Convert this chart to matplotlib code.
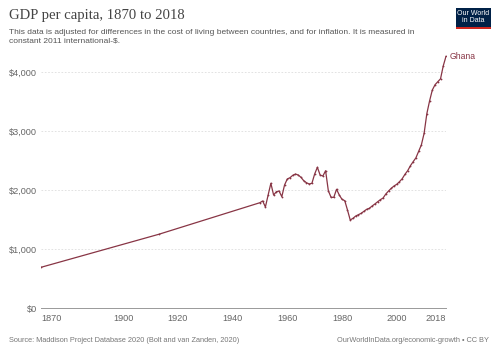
import matplotlib
matplotlib.use("Agg")
from matplotlib import pyplot as plt
from matplotlib.patches import Rectangle
from matplotlib.ticker import FuncFormatter

# Ghana, GDP per capita (2011 int-$)
years = [1870, 1913] + list(range(1950, 2019))
gdp = [
    695, 1254,
    1790, 1820, 1717, 1920, 2119, 1920, 1976, 1988, 1892, 2090,  # 1950-59
    2192, 2214, 2254, 2276, 2259, 2220, 2163, 2129, 2107, 2119,  # 1960-69
    2276, 2390, 2259, 2242, 2332, 1993, 1881, 1881, 2017, 1920,  # 1970-79
    1847, 1824, 1666, 1497, 1525, 1564, 1587, 1610, 1644, 1678,  # 1980-89
    1695, 1734, 1768, 1805, 1841, 1869, 1937, 1988, 2034, 2073,  # 1990-99
    2102, 2146, 2197, 2271, 2333, 2417, 2485, 2550, 2660, 2770,  # 2000-09
    2966, 3300, 3515, 3700, 3790, 3840, 3890, 4110, 4270,        # 2010-18
]
country = "Ghana"
x_ticks = [1870, 1900, 1920, 1940, 1960, 1980, 2000, 2018]
y_ticks = [0, 1000, 2000, 3000, 4000]

line_color = "#883545"
grey = "#666666"

fig = plt.figure(figsize=(5, 3.53), dpi=100)
ax = fig.add_axes([0.082, 0.1266, 0.81, 0.7187])

ax.plot(years, gdp, color=line_color, lw=0.9, marker="o", ms=1.3,
        markeredgewidth=0, zorder=3)
ax.text(years[-1] + 1.2, gdp[-1], country, color=line_color, fontsize=6.2,
        va="center", ha="left", family="Liberation Sans")

ax.set_xlim(1870, 2018)
ax.set_ylim(0, 4300)
ax.set_xticks(x_ticks)
ax.set_yticks(y_ticks)
ax.yaxis.set_major_formatter(FuncFormatter(lambda v, p: f"${v:,.0f}"))
ax.grid(axis="y", color="#dddddd", lw=0.6, ls=(0, (2, 2)))
ax.set_axisbelow(True)

for side in ["top", "right", "left"]:
    ax.spines[side].set_visible(False)
ax.spines["bottom"].set_color("#999999")
ax.spines["bottom"].set_linewidth(0.7)

ax.tick_params(axis="y", length=0, pad=3, labelsize=6.6, labelcolor=grey)
ax.tick_params(axis="x", length=0, pad=4, labelsize=6.6, labelcolor=grey)
for lab in ax.get_xticklabels() + ax.get_yticklabels():
    lab.set_family("Liberation Sans")
xl = ax.get_xticklabels()
xl[0].set_ha("left")
xl[-1].set_ha("right")
# little end ticks at both ends of the x axis
ax.set_xticks([1870, 2018], minor=True)
ax.tick_params(axis="x", which="minor", length=3, width=0.7, color="#999999")

fig.text(0.018, 0.955, "GDP per capita, 1870 to 2018", fontsize=10.6,
         family="Liberation Serif", color="#444444", va="center")
fig.text(0.018, 0.895,
         "This data is adjusted for differences in the cost of living between countries, and for inflation. It is measured in\nconstant 2011 international-$.",
         fontsize=6.0, family="Liberation Sans", color="#555555", va="center",
         linespacing=1.3)
fig.text(0.018, 0.034,
         "Source: Maddison Project Database 2020 (Bolt and van Zanden, 2020)",
         fontsize=5.3, family="Liberation Sans", color="#777777", va="center")
fig.text(0.978, 0.034, "OurWorldInData.org/economic-growth \u2022 CC BY",
         fontsize=5.3, family="Liberation Sans", color="#777777", va="center",
         ha="right")

# logo
fig.patches.append(Rectangle((0.912, 0.918), 0.07, 0.06, transform=fig.transFigure,
                             facecolor="#002147", edgecolor="none", figure=fig))
fig.patches.append(Rectangle((0.912, 0.918), 0.07, 0.006, transform=fig.transFigure,
                             facecolor="#ce261e", edgecolor="none", figure=fig))
fig.text(0.947, 0.952, "Our World\nin Data", fontsize=5.0, color="white",
         ha="center", va="center", family="Liberation Sans", linespacing=0.95)

fig.savefig("out.png", dpi=100)
